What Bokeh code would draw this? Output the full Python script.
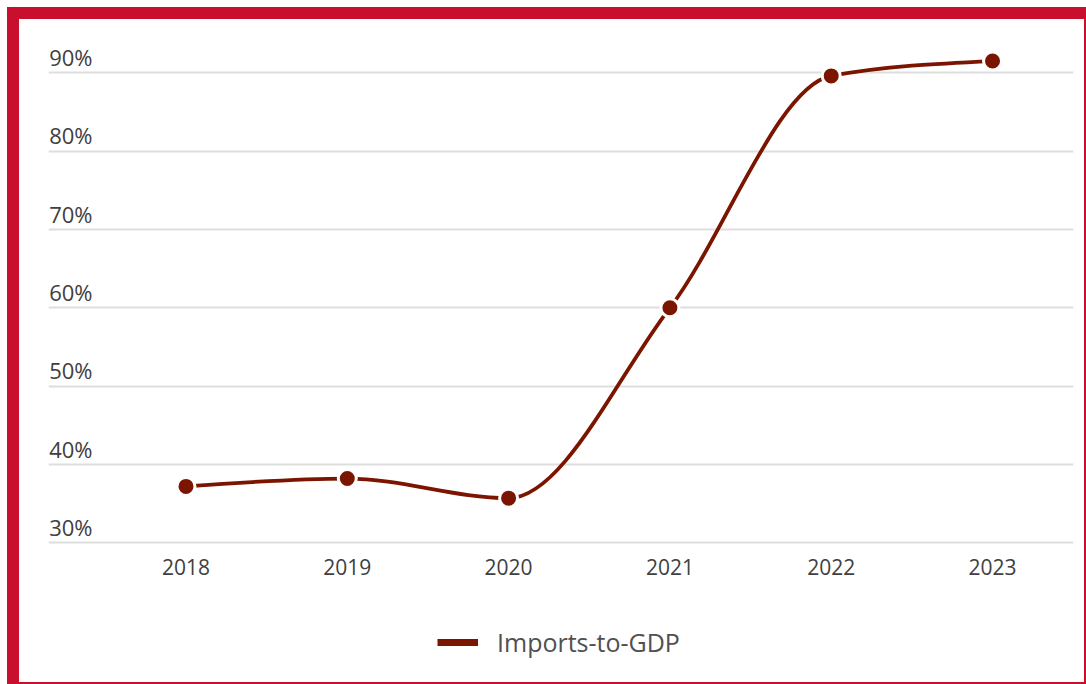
import numpy as np
from bokeh.plotting import figure
from bokeh.models import (Range1d, LinearAxis, FixedTicker, Grid, Legend, LegendItem,
                          ColumnDataSource, PrintfTickFormatter, Div)
from bokeh.layouts import column, row
from bokeh.embed import file_html
from bokeh.resources import INLINE

# ---- data ----
years = [2018, 2019, 2020, 2021, 2022, 2023]
imports_to_gdp = [37.2, 38.2, 35.7, 60.0, 89.6, 91.5]
y_ticks = [30, 40, 50, 60, 70, 80, 90]
series_name = "Imports-to-GDP"

# ---- styles ----
RED = "#c8102e"
LINE = "#7b1500"
TEXT = "#404040"
GRID = "#dedede"
FONT = "Open Sans"

W = 1065
H_MAIN, H_LEG = 581, 82
Y0, Y1 = 28.89, 94.25
X0, X1 = 2017.1476, 2023.502
LABEL_SHIFT = 2.0

p = figure(width=W, height=H_MAIN, output_backend="svg", toolbar_location=None, tools="",
           x_range=Range1d(X0, X1), y_range=Range1d(Y0, Y1),
           x_axis_location=None, y_axis_location=None,
           min_border_left=29, min_border_right=11, min_border_top=20, min_border_bottom=49)
p.outline_line_color = None
p.background_fill_color = "white"
p.border_fill_color = "white"
p.grid.visible = False

p.add_layout(Grid(dimension=1, ticker=FixedTicker(ticks=y_ticks),
                  grid_line_color=GRID, grid_line_width=2))

xaxis = LinearAxis(ticker=FixedTicker(ticks=years),
                   axis_line_color=None, major_tick_line_color=None, minor_tick_line_color=None,
                   major_tick_in=0, major_tick_out=0, major_label_standoff=7,
                   major_label_text_font=FONT, major_label_text_font_size="21px",
                   major_label_text_color=TEXT)
p.add_layout(xaxis, "below")

p.extra_y_ranges = {"ylab": Range1d(Y0 - LABEL_SHIFT, Y1 - LABEL_SHIFT)}
yaxis = LinearAxis(y_range_name="ylab", ticker=FixedTicker(ticks=y_ticks),
                   formatter=PrintfTickFormatter(format="%d%%"),
                   axis_line_color=None, major_tick_line_color=None, minor_tick_line_color=None,
                   major_tick_in=0, major_tick_out=0, major_label_standoff=-44,
                   major_label_text_font=FONT, major_label_text_font_size="22px",
                   major_label_text_color=TEXT)
p.add_layout(yaxis, "left")

# ---- monotone cubic curve (d3 monotoneX style) rendered with bezier glyph ----
x = np.array(years, dtype=float)
y = np.array(imports_to_gdp, dtype=float)
n = len(x)
h = np.diff(x)
s = np.diff(y) / h
t = np.zeros(n)
for i in range(1, n - 1):
    pp = (s[i - 1] * h[i] + s[i] * h[i - 1]) / (h[i - 1] + h[i])
    t[i] = (np.sign(s[i - 1]) + np.sign(s[i])) * min(abs(s[i - 1]), abs(s[i]), 0.5 * abs(pp))
t[0] = (3 * s[0] - t[1]) / 2
t[-1] = (3 * s[-1] - t[-2]) / 2

curve = ColumnDataSource(dict(
    x0=x[:-1], y0=y[:-1], x1=x[1:], y1=y[1:],
    cx0=x[:-1] + h / 3, cy0=y[:-1] + h / 3 * t[:-1],
    cx1=x[1:] - h / 3, cy1=y[1:] - h / 3 * t[1:],
))
p.bezier(x0="x0", y0="y0", x1="x1", y1="y1", cx0="cx0", cy0="cy0", cx1="cx1", cy1="cy1",
         source=curve, line_color=LINE, line_width=3.8)

p.scatter(x=years, y=imports_to_gdp, size=18, fill_color=LINE, line_color="white", line_width=3)

# ---- legend in its own strip below the chart ----
pl = figure(width=W, height=H_LEG, output_backend="svg", toolbar_location=None, tools="",
            x_range=Range1d(0, 1), y_range=Range1d(0, 1),
            x_axis_location=None, y_axis_location=None,
            min_border_left=0, min_border_right=0, min_border_top=0, min_border_bottom=0)
pl.outline_line_color = None
pl.grid.visible = False
pl.border_fill_color = "white"
leg_r = pl.line(x=[np.nan], y=[np.nan], line_color=LINE, line_width=7)
legend = Legend(items=[LegendItem(label=series_name, renderers=[leg_r])],
                location=(389, 23), orientation="horizontal",
                border_line_color=None, background_fill_alpha=0,
                glyph_width=41, glyph_height=20, label_standoff=19,
                padding=0, margin=0, spacing=0,
                label_text_font=FONT, label_text_font_size="25px", label_text_color="#505050")
pl.add_layout(legend, "center")

div_style = {"background-color": RED}
H = H_MAIN + H_LEG
top = Div(text="", width=1079, height=12, margin=0, styles=div_style)
left = Div(text="", width=12, height=H, margin=0, styles=div_style)
right = Div(text="", width=2, height=H, margin=0, styles=div_style)
bottom = Div(text="", width=1079, height=2, margin=0, styles=div_style)
layout = column(top, row(left, column(p, pl, spacing=0), right, spacing=0), bottom,
                spacing=0, margin=(7, 0, 0, 7))

open("out.html", "w").write(file_html(layout, INLINE))
